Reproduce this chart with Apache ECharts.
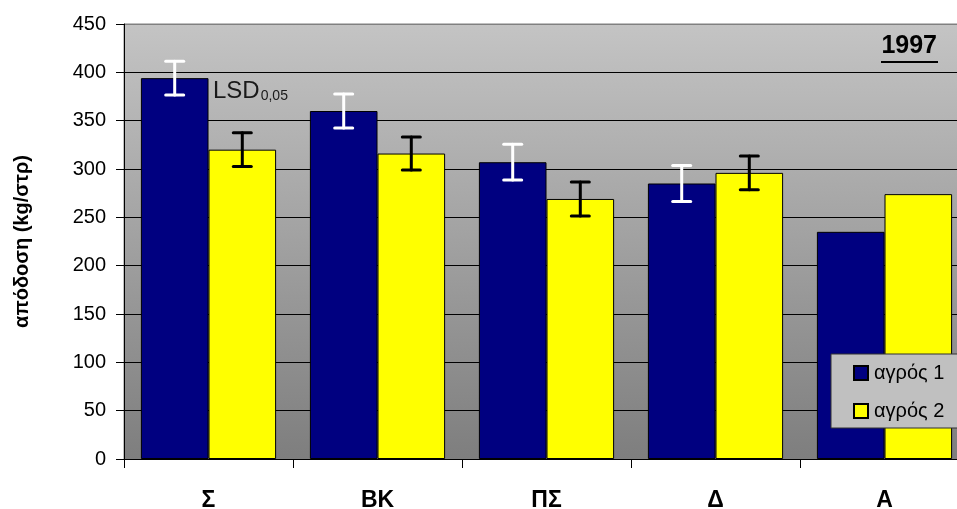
<!DOCTYPE html>
<html>
<head>
<meta charset="utf-8">
<script src="https://cdn.jsdelivr.net/npm/echarts@6/dist/echarts.min.js"></script>
<style>
html,body{margin:0;padding:0;background:#fff;}
#c{width:957px;height:509px;}
</style>
</head>
<body>
<div id="c"></div>
<script>
const categories = ['Σ', 'ΒΚ', 'ΠΣ', 'Δ', 'Α'];
const agros1 = [394, 360, 307, 285, 235];
const agros2 = [320, 316, 269, 296, 274];
const lsd1 = [35, 35, 37, 37, null];
const lsd2 = [35, 34, 35, 35, null];
const seriesNames = ['αγρός 1', 'αγρός 2'];
const yTicks = [0, 50, 100, 150, 200, 250, 300, 350, 400, 450];

const FONT = '"Liberation Sans", Arial, sans-serif';

const errData = [];
[[agros1, lsd1], [agros2, lsd2]].forEach(function (pair, s) {
  pair[0].forEach(function (v, i) {
    const l = pair[1][i];
    if (l != null) errData.push([i, v - l / 2, v + l / 2, s]);
  });
});

const chart = echarts.init(document.getElementById('c'));
const splitColors = yTicks.map(function (t, i) { return i === yTicks.length - 1 ? '#808080' : '#000'; });

chart.setOption({
  animation: false,
  textStyle: { fontFamily: FONT, color: '#000' },
  grid: {
    left: 124, top: 24, bottom: 50, right: -12,
    outerBoundsMode: 'none',
    containLabel: false,
    show: true,
    borderColor: '#808080',
    borderWidth: 1,
    backgroundColor: {
      type: 'linear', x: 0, y: 0, x2: 0, y2: 1,
      colorStops: [{ offset: 0, color: '#c4c4c4' }, { offset: 1, color: '#7e7e7e' }]
    }
  },
  legend: {
    data: seriesNames,
    orient: 'vertical',
    left: 831, top: 354,
    padding: [9, 40, 7, 22],
    itemWidth: 14, itemHeight: 14, itemGap: 18,
    backgroundColor: '#c0c0c0',
    borderColor: '#303030', borderWidth: 1, borderRadius: 0,
    icon: 'rect',
    textStyle: { fontFamily: FONT, fontSize: 20, color: '#000', padding: [0, 0, 0, 1] }
  },
  xAxis: {
    type: 'category',
    data: categories,
    axisLine: { lineStyle: { color: '#000', width: 1 } },
    axisTick: { show: true, alignWithLabel: false, length: 9, lineStyle: { color: '#000' } },
    axisLabel: { fontFamily: FONT, fontSize: 23, fontWeight: 'bold', color: '#000', margin: 30 }
  },
  yAxis: {
    type: 'value',
    min: 0, max: 450, interval: 50,
    name: 'απόδοση (kg/στρ)',
    nameLocation: 'middle',
    nameGap: 92,
    nameTextStyle: { fontFamily: FONT, fontSize: 20, fontWeight: 'bold', color: '#000' },
    axisLine: { show: true, lineStyle: { color: '#000', width: 1 } },
    axisTick: { show: true, length: 8, lineStyle: { color: '#000' } },
    axisLabel: { fontFamily: FONT, fontSize: 20, color: '#000', margin: 18 },
    splitLine: { show: true, lineStyle: { color: splitColors, width: 1 } }
  },
  series: [
    {
      name: seriesNames[0], type: 'bar', data: agros1,
      barGap: '0%', barCategoryGap: '20%',
      itemStyle: { color: '#000080', borderColor: '#000', borderWidth: 1 }
    },
    {
      name: seriesNames[1], type: 'bar', data: agros2,
      barGap: '0%', barCategoryGap: '20%',
      itemStyle: { color: '#ffff00', borderColor: '#000', borderWidth: 1 }
    },
    {
      type: 'custom',
      z: 5,
      data: errData,
      encode: { x: 0, y: [1, 2] },
      renderItem: function (params, api) {
        const ci = api.value(0), lo = api.value(1), hi = api.value(2), s = api.value(3);
        const band = api.size([1, 0])[0];
        const off = (s === 0 ? -0.2 : 0.2) * band;
        const pLo = api.coord([ci, lo]);
        const pHi = api.coord([ci, hi]);
        const x = pLo[0] + off;
        const color = s === 0 ? '#ffffff' : '#000000';
        const hw = 9;
        const st = { stroke: color, lineWidth: 3, lineCap: 'round' };
        return {
          type: 'group',
          children: [
            { type: 'line', shape: { x1: x, y1: pLo[1], x2: x, y2: pHi[1] }, style: st },
            { type: 'line', shape: { x1: x - hw, y1: pLo[1], x2: x + hw, y2: pLo[1] }, style: st },
            { type: 'line', shape: { x1: x - hw, y1: pHi[1], x2: x + hw, y2: pHi[1] }, style: st }
          ]
        };
      }
    }
  ],
  graphic: [
    {
      type: 'text', right: 20, top: 34, z: 10,
      style: { text: '1997', fontFamily: FONT, fontSize: 25, fontWeight: 'bold', fill: '#000' }
    },
    {
      type: 'rect', left: 881, top: 61, z: 10,
      shape: { width: 57, height: 2 },
      style: { fill: '#000' }
    },
    {
      type: 'text', left: 213, top: 79, z: 10,
      style: {
        text: '{a|LSD}{b|0,05}',
        fontFamily: FONT,
        rich: {
          a: { fontFamily: FONT, fontSize: 24, fill: '#1a1a1a', color: '#1a1a1a' },
          b: { fontFamily: FONT, fontSize: 14, fill: '#1a1a1a', color: '#1a1a1a', verticalAlign: 'bottom', padding: [10, 0, 0, 1] }
        }
      }
    }
  ]
});
</script>
</body>
</html>
